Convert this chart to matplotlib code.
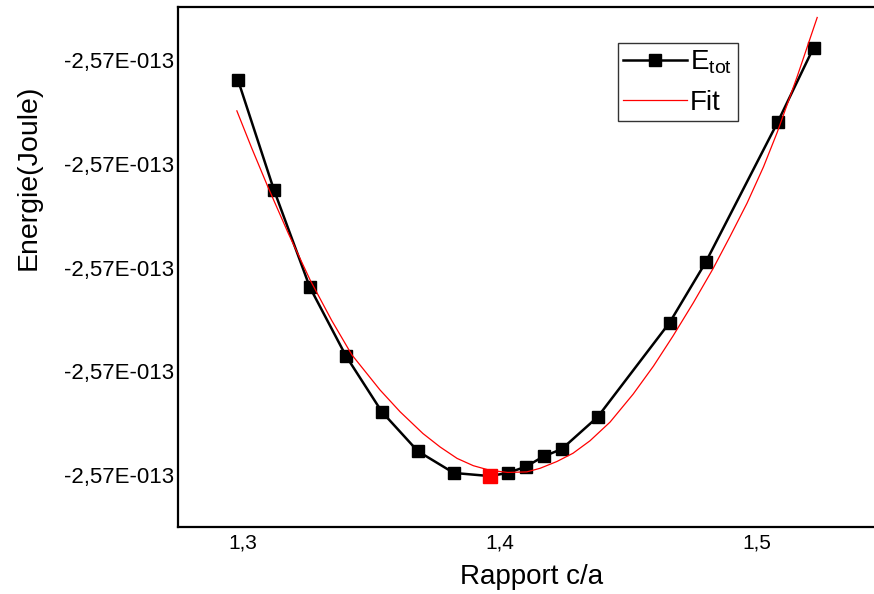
import matplotlib
matplotlib.use("Agg")
import matplotlib.pyplot as plt
from matplotlib.ticker import FuncFormatter

plt.rcParams['font.family'] = ['Liberation Sans', 'DejaVu Sans']
plt.rcParams['mathtext.fontset'] = 'custom'
plt.rcParams['mathtext.rm'] = 'Liberation Sans'

# Rapport c/a et energie totale (en 1e-18 J au-dessus de e0)
e0 = -2.5703e-13
unite = 1e-18
rapport = [1.298, 1.312, 1.326, 1.340, 1.354, 1.368, 1.382, 1.396, 1.403,
           1.410, 1.417, 1.424, 1.438, 1.466, 1.480, 1.508, 1.522]
energie = [3.81, 2.75, 1.81, 1.15, 0.61, 0.23, 0.02, -0.01, 0.02,
           0.08, 0.18, 0.25, 0.56, 1.47, 2.05, 3.40, 4.12]
i_min = 7  # point minimum (en rouge)

# courbe de fit
fit_x = [1.2976, 1.3034, 1.3098, 1.3176, 1.3261, 1.3345, 1.3423,
         1.3533, 1.3611, 1.3700, 1.3767, 1.3833, 1.3896, 1.3961, 1.4030,
         1.4104, 1.4156, 1.4221, 1.4284, 1.4350, 1.4428, 1.4518,
         1.4597, 1.4673, 1.4752, 1.4829, 1.4895, 1.4961, 1.5025, 1.5078,
         1.5156, 1.5234]
fit_e = [3.51, 3.15, 2.77, 2.33, 1.88, 1.49, 1.16,
         0.82, 0.61, 0.40, 0.27, 0.16, 0.09, 0.045, 0.025,
         0.03, 0.065, 0.13, 0.21, 0.33, 0.51, 0.78,
         1.05, 1.34, 1.66, 1.99, 2.30, 2.62, 2.97, 3.30,
         3.84, 4.41]

y_ticks = [0, 1, 2, 3, 4]
x_ticks = [1.3, 1.4, 1.5]

E = [e0 + v * unite for v in energie]
E_fit = [e0 + v * unite for v in fit_e]

fig = plt.figure(figsize=(8.74, 5.94), dpi=100, facecolor="#FFFFFF")
ax = fig.add_axes([178 / 874, 67 / 594, 696 / 874, 520 / 594])

ax.plot(rapport, E, color="black", linewidth=1.8, marker='s', markersize=9,
        markerfacecolor="black", markeredgecolor="black", label=r"$\mathregular{E_{tot}}$")
ax.plot([rapport[i_min]], [E[i_min]], linestyle='none', marker='s', markersize=9.5,
        color="#FF0000")
ax.plot(fit_x, E_fit, color="#FF0000", linewidth=0.9, label="Fit")

ax.set_xlim(1.2747, 1.5455)
ax.set_ylim(e0 - 0.501 * unite, e0 + 4.511 * unite)
ax.set_xticks(x_ticks)
ax.set_yticks([e0 + k * unite for k in y_ticks])


def fmt_y(v, pos):
    s = "%.2E" % v
    mant, exp = s.split("E")
    sign = exp[0]
    return mant.replace(".", ",") + "E" + sign + exp[1:].zfill(3)


ax.yaxis.set_major_formatter(FuncFormatter(fmt_y))
ax.xaxis.set_major_formatter(FuncFormatter(lambda v, p: ("%.1f" % v).replace(".", ",")))
ax.tick_params(axis='y', length=0, pad=3, labelsize=16)
ax.tick_params(axis='x', length=0, pad=5, labelsize=15)

for side in ['left', 'bottom', 'top']:
    ax.spines[side].set_linewidth(1.6)
ax.spines['right'].set_visible(False)

fig.text(460 / 874, 1 - 577 / 594, "Rapport c/a", fontsize=20, ha='left', va='center')
fig.text(29 / 874, 1 - 177 / 594, "Energie(Joule)", fontsize=20.5, rotation=90,
         ha='center', va='center')

leg = ax.legend(loc='upper left', bbox_to_anchor=(0.632, 0.931), borderaxespad=0,
                fontsize=20, handlelength=2.3, handletextpad=0.1, borderpad=0.2,
                labelspacing=0.5, fancybox=False, frameon=True)
leg.get_frame().set_edgecolor("black")
leg.get_frame().set_linewidth(1.0)

plt.savefig("out.png", dpi=100)
plt.close()
